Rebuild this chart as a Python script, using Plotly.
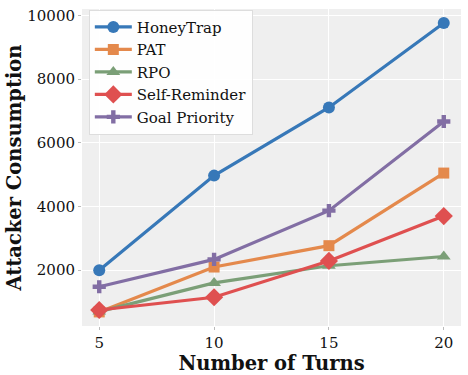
import plotly.graph_objects as go

turns = [5, 10, 15, 20]
honeytrap = [2000, 4970, 7110, 9760]
pat = [690, 2100, 2770, 5050]
rpo = [700, 1600, 2140, 2430]
self_reminder = [750, 1150, 2290, 3700]
goal_priority = [1480, 2340, 3870, 6670]
y_ticks = [2000, 4000, 6000, 8000, 10000]

series = [
    ('HoneyTrap', honeytrap, '#3778b8', 'circle', 12),
    ('PAT', pat, '#e4894c', 'square', 11),
    ('RPO', rpo, '#7b9f77', 'triangle-up', 12),
    ('Self-Reminder', self_reminder, '#df5050', 'diamond', 14),
    ('Goal Priority', goal_priority, '#826ea4', 'cross', 11),
]

fig = go.Figure()
for name, values, color, symbol, size in series:
    fig.add_trace(go.Scatter(x=turns, y=values, name=name, mode='lines+markers',
                             line=dict(color=color, width=3.2),
                             marker=dict(symbol=symbol, size=size, color=color)))

fig.update_layout(
    width=468, height=375,
    margin=dict(l=82, r=7, t=7, b=49),
    paper_bgcolor='#ffffff', plot_bgcolor='#efefef',
    font=dict(family='DejaVu Serif', size=15, color='#111111'),
    legend=dict(x=0.018, y=0.998, xanchor='left', yanchor='top',
                bgcolor='rgba(255,255,255,0.9)', bordercolor='#dddddd',
                borderwidth=1, font=dict(size=15), tracegroupgap=0,
                itemwidth=37),
    showlegend=True,
)
fig.update_xaxes(range=[4.25, 20.75], tickvals=turns, showgrid=True,
                 gridcolor='#ffffff', gridwidth=1.2, zeroline=False,
                 ticks='outside', ticklen=3, tickcolor='#bbbbbb',
                 title=dict(text='<b>Number of Turns</b>', font=dict(size=19.5),
                            standoff=2))
fig.update_yaxes(range=[248, 10202], tickvals=y_ticks,
                 ticktext=[str(v) for v in y_ticks],
                 showgrid=True, gridcolor='#ffffff', gridwidth=1.2,
                 zeroline=False, ticks='outside', ticklen=3, tickcolor='#bbbbbb',
                 title=dict(text='<b>Attacker Consumption</b>', font=dict(size=19.5),
                            standoff=0))

fig.write_html('out.html', config={'displayModeBar': False},
               post_script="document.body.style.margin='0';")
